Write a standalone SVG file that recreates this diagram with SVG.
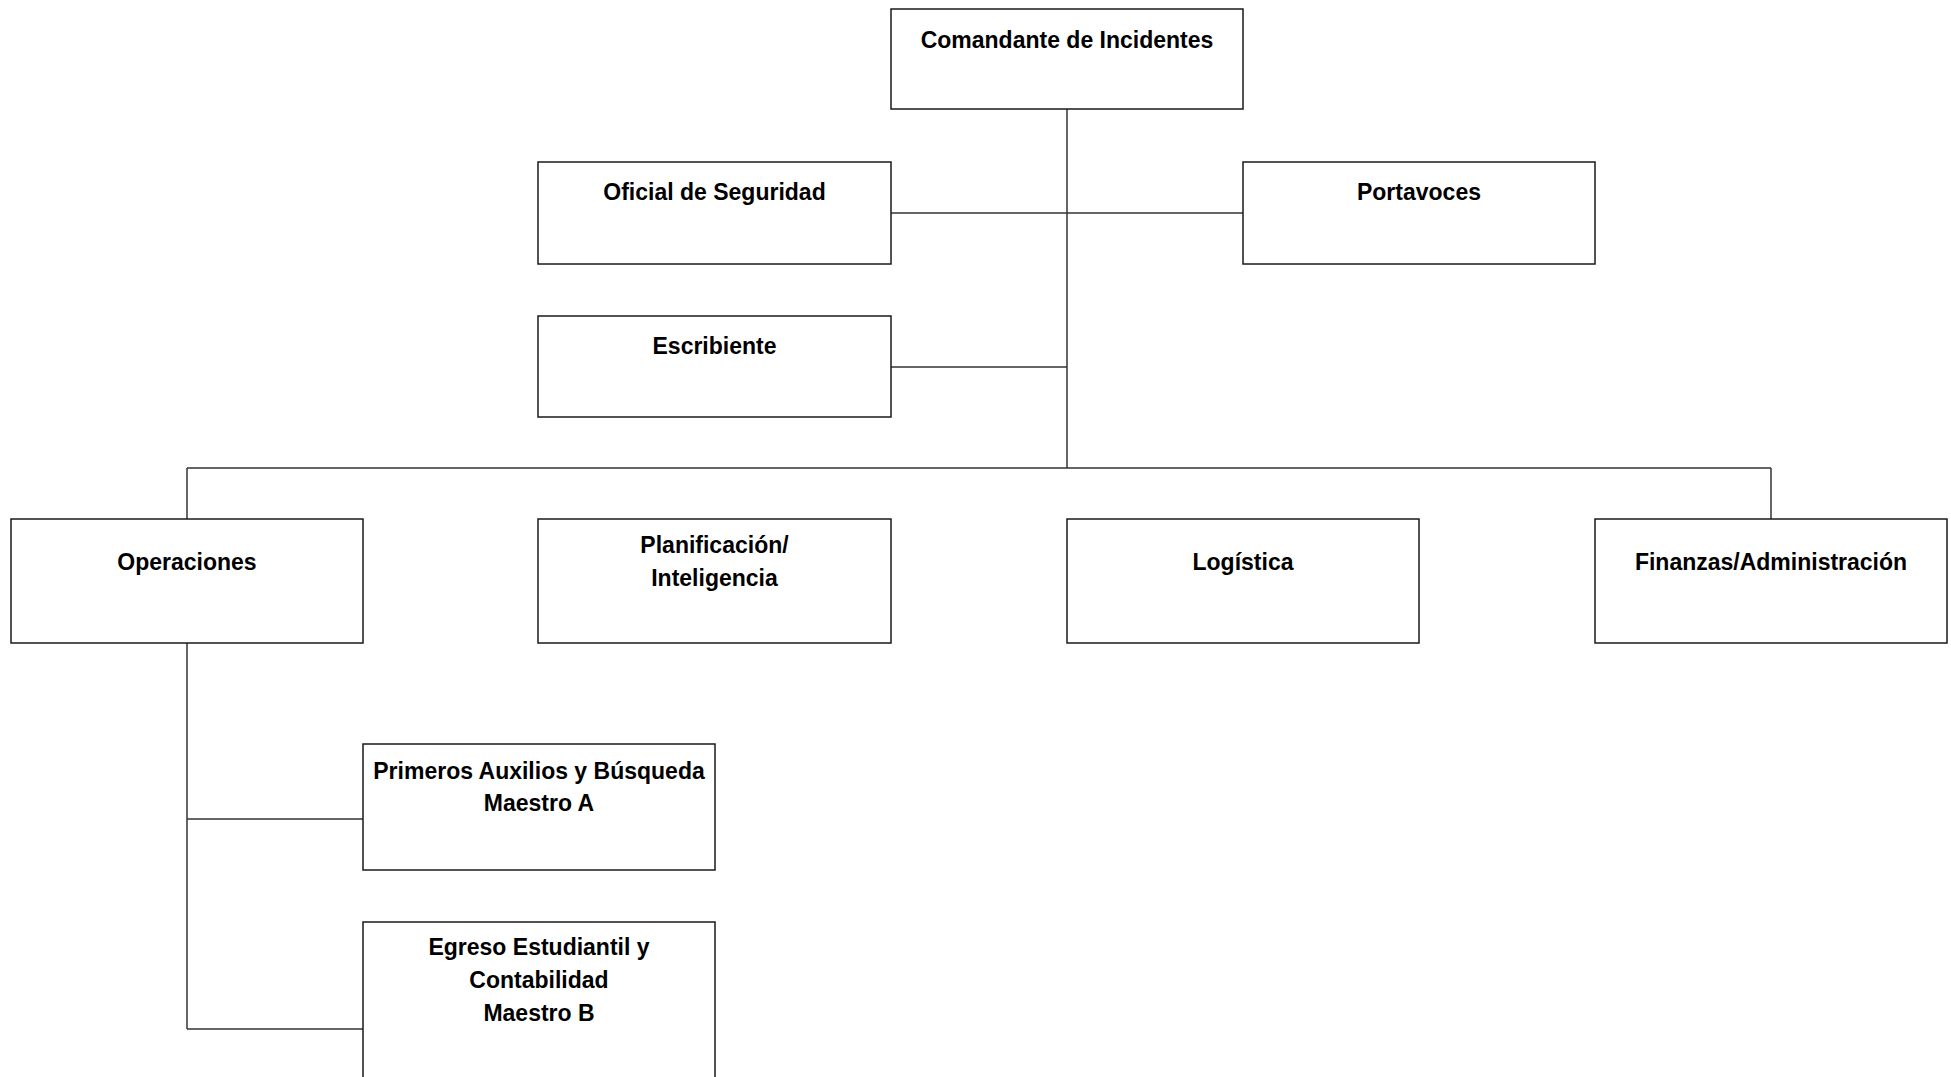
<svg xmlns="http://www.w3.org/2000/svg" width="1951" height="1077" viewBox="0 0 1951 1077">
<style>
.box{fill:#ffffff;stroke:#1a1a1a;stroke-width:1.5}
.lbl{font-family:"Liberation Sans",Arial,sans-serif;font-weight:bold;font-size:23px;fill:#000;text-anchor:middle}
.conn{stroke:#333333;stroke-width:1.5;fill:none}
</style>
<rect width="1951" height="1077" fill="#ffffff"/>
<g id="connectors">
<line class="conn" x1="1067" y1="109" x2="1067" y2="468"/>
<line class="conn" x1="891" y1="213" x2="1243" y2="213"/>
<line class="conn" x1="891" y1="367" x2="1067" y2="367"/>
<line class="conn" x1="187" y1="468" x2="1771" y2="468"/>
<line class="conn" x1="187" y1="468" x2="187" y2="519"/>
<line class="conn" x1="1771" y1="468" x2="1771" y2="519"/>
<line class="conn" x1="187" y1="643" x2="187" y2="1029"/>
<line class="conn" x1="187" y1="819" x2="363" y2="819"/>
<line class="conn" x1="187" y1="1029" x2="363" y2="1029"/>
</g>
<g id="comandante">
<rect class="box" x="891" y="9" width="352" height="100"/>
<text class="lbl" x="1067" y="48">Comandante de Incidentes</text>
</g>
<g id="oficial">
<rect class="box" x="538" y="162" width="353" height="102"/>
<text class="lbl" x="714.5" y="200">Oficial de Seguridad</text>
</g>
<g id="portavoces">
<rect class="box" x="1243" y="162" width="352" height="102"/>
<text class="lbl" x="1419" y="200">Portavoces</text>
</g>
<g id="escribiente">
<rect class="box" x="538" y="316" width="353" height="101"/>
<text class="lbl" x="714.5" y="354">Escribiente</text>
</g>
<g id="operaciones">
<rect class="box" x="11" y="519" width="352" height="124"/>
<text class="lbl" x="187" y="570">Operaciones</text>
</g>
<g id="planificacion">
<rect class="box" x="538" y="519" width="353" height="124"/>
<text class="lbl" x="714.5" y="553">Planificación/</text>
<text class="lbl" x="714.5" y="586">Inteligencia</text>
</g>
<g id="logistica">
<rect class="box" x="1067" y="519" width="352" height="124"/>
<text class="lbl" x="1243" y="570">Logística</text>
</g>
<g id="finanzas">
<rect class="box" x="1595" y="519" width="352" height="124"/>
<text class="lbl" x="1771" y="570">Finanzas/Administración</text>
</g>
<g id="primeros">
<rect class="box" x="363" y="744" width="352" height="126"/>
<text class="lbl" x="539" y="779">Primeros Auxilios y Búsqueda</text>
<text class="lbl" x="539" y="811">Maestro A</text>
</g>
<g id="egreso">
<rect class="box" x="363" y="922" width="352" height="170"/>
<text class="lbl" x="539" y="955">Egreso Estudiantil y</text>
<text class="lbl" x="539" y="988">Contabilidad</text>
<text class="lbl" x="539" y="1021">Maestro B</text>
</g>
</svg>
